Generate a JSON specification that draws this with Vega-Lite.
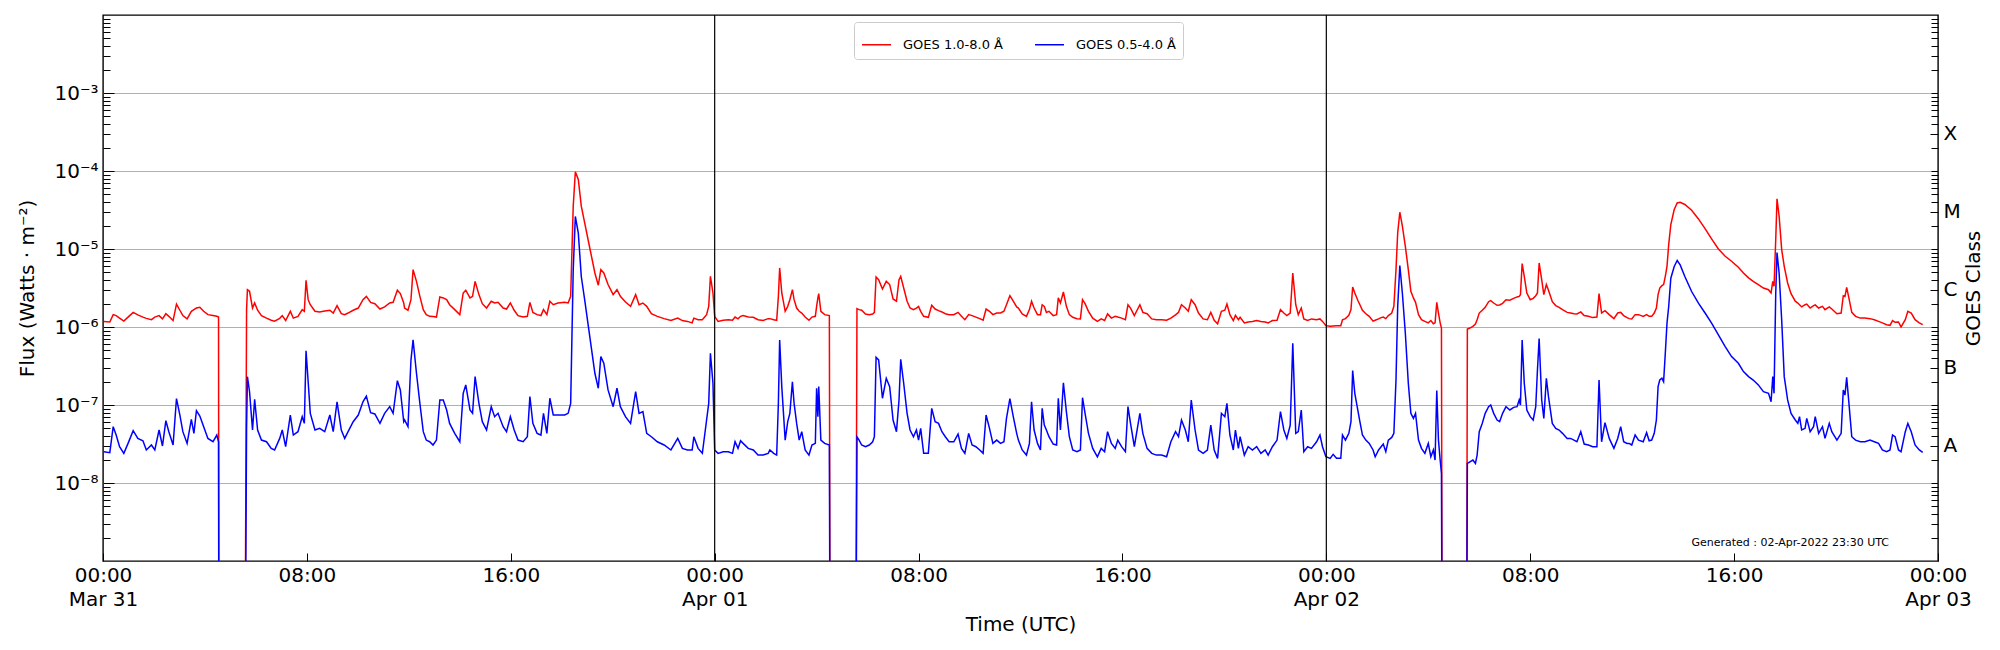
{
  "$schema": "https://vega.github.io/schema/vega-lite/v6.json",
  "width": 1835,
  "height": 546,
  "autosize": {"type": "none"},
  "padding": {"left": 103, "top": 15, "right": 62, "bottom": 89},
  "config": {
    "font": "DejaVu Sans",
    "view": {"stroke": "black", "strokeWidth": 1.4},
    "axis": {
      "labelFont": "DejaVu Sans", "titleFont": "DejaVu Sans",
      "labelFontSize": 20, "titleFontSize": 20, "titleFontWeight": "normal",
      "labelColor": "black", "titleColor": "black", "tickColor": "black",
      "tickWidth": 1, "domain": false
    }
  },
  "encoding": {
    "x": {
      "field": "t", "type": "temporal",
      "scale": {"type": "utc", "nice": false, "domain": [{"year": 2022, "month": 3, "date": 31, "utc": true}, {"year": 2022, "month": 4, "date": 3, "utc": true}]},
      "axis": {
        "orient": "bottom",
        "values": [
          {"year": 2022, "month": 3, "date": 31, "hours": 0, "utc": true},
          {"year": 2022, "month": 3, "date": 31, "hours": 8, "utc": true},
          {"year": 2022, "month": 3, "date": 31, "hours": 16, "utc": true},
          {"year": 2022, "month": 4, "date": 1, "hours": 0, "utc": true},
          {"year": 2022, "month": 4, "date": 1, "hours": 8, "utc": true},
          {"year": 2022, "month": 4, "date": 1, "hours": 16, "utc": true},
          {"year": 2022, "month": 4, "date": 2, "hours": 0, "utc": true},
          {"year": 2022, "month": 4, "date": 2, "hours": 8, "utc": true},
          {"year": 2022, "month": 4, "date": 2, "hours": 16, "utc": true},
          {"year": 2022, "month": 4, "date": 3, "hours": 0, "utc": true}
        ],
        "labelExpr": "utchours(datum.value) == 0 ? [utcFormat(datum.value, '%H:%M'), utcFormat(datum.value, '%b %d')] : utcFormat(datum.value, '%H:%M')",
        "labelFlush": false, "labelOverlap": false,
        "tickSize": -8, "labelPadding": 12, "labelLineHeight": 24,
        "grid": false, "title": "Time (UTC)", "titlePadding": 5
      }
    }
  },
  "layer": [
    {
      "data": {"values": [
        {"t":"2022-03-31T00:02Z","r":1.18e-6,"b":2.52e-8},
        {"t":"2022-03-31T00:16Z","r":1.16e-6,"b":2.45e-8},
        {"t":"2022-03-31T00:24Z","r":1.44e-6,"b":5.27e-8},
        {"t":"2022-03-31T00:31Z","r":1.40e-6,"b":4.12e-8},
        {"t":"2022-03-31T00:39Z","r":1.30e-6,"b":2.92e-8},
        {"t":"2022-03-31T00:49Z","r":1.19e-6,"b":2.40e-8},
        {"t":"2022-03-31T00:59Z","r":1.34e-6,"b":3.22e-8},
        {"t":"2022-03-31T01:11Z","r":1.54e-6,"b":4.68e-8},
        {"t":"2022-03-31T01:22Z","r":1.43e-6,"b":3.73e-8},
        {"t":"2022-03-31T01:34Z","r":1.34e-6,"b":3.48e-8},
        {"t":"2022-03-31T01:42Z","r":1.29e-6,"b":2.65e-8},
        {"t":"2022-03-31T01:54Z","r":1.24e-6,"b":3.07e-8},
        {"t":"2022-03-31T02:02Z","r":1.34e-6,"b":2.65e-8},
        {"t":"2022-03-31T02:12Z","r":1.40e-6,"b":4.78e-8},
        {"t":"2022-03-31T02:20Z","r":1.27e-6,"b":2.98e-8},
        {"t":"2022-03-31T02:28Z","r":1.48e-6,"b":6.29e-8},
        {"t":"2022-03-31T02:35Z","r":1.37e-6,"b":4.55e-8},
        {"t":"2022-03-31T02:45Z","r":1.21e-6,"b":3.07e-8},
        {"t":"2022-03-31T02:53Z","r":1.97e-6,"b":1.21e-7},
        {"t":"2022-03-31T03:01Z","r":1.64e-6,"b":7.44e-8},
        {"t":"2022-03-31T03:08Z","r":1.40e-6,"b":4.55e-8},
        {"t":"2022-03-31T03:18Z","r":1.27e-6,"b":3.22e-8},
        {"t":"2022-03-31T03:28Z","r":1.59e-6,"b":6.55e-8},
        {"t":"2022-03-31T03:34Z","r":1.67e-6,"b":4.33e-8},
        {"t":"2022-03-31T03:40Z","r":1.75e-6,"b":8.46e-8},
        {"t":"2022-03-31T03:48Z","r":1.79e-6,"b":7.22e-8},
        {"t":"2022-03-31T03:57Z","r":1.59e-6,"b":5.27e-8},
        {"t":"2022-03-31T04:07Z","r":1.44e-6,"b":3.73e-8},
        {"t":"2022-03-31T04:19Z","r":1.40e-6,"b":3.38e-8},
        {"t":"2022-03-31T04:28Z","r":1.37e-6,"b":4.12e-8},
        {"t":"2022-03-31T04:32Z","r":1.34e-6,"b":3.38e-8},
        {"t":"2022-03-31T04:33Z","r":1e-11,"b":1e-11},
        {"t":"2022-03-31T05:34Z","r":1e-11,"b":1e-11},
        {"t":"2022-03-31T05:38Z","r":1.67e-6,"b":5.02e-8},
        {"t":"2022-03-31T05:40Z","r":3.01e-6,"b":2.31e-7},
        {"t":"2022-03-31T05:45Z","r":2.87e-6,"b":1.48e-7},
        {"t":"2022-03-31T05:52Z","r":1.75e-6,"b":4.78e-8},
        {"t":"2022-03-31T05:57Z","r":2.03e-6,"b":1.18e-7},
        {"t":"2022-03-31T06:04Z","r":1.64e-6,"b":4.78e-8},
        {"t":"2022-03-31T06:13Z","r":1.40e-6,"b":3.55e-8},
        {"t":"2022-03-31T06:25Z","r":1.30e-6,"b":3.38e-8},
        {"t":"2022-03-31T06:36Z","r":1.22e-6,"b":2.78e-8},
        {"t":"2022-03-31T06:44Z","r":1.19e-6,"b":2.65e-8},
        {"t":"2022-03-31T06:56Z","r":1.29e-6,"b":3.73e-8},
        {"t":"2022-03-31T07:02Z","r":1.40e-6,"b":4.78e-8},
        {"t":"2022-03-31T07:10Z","r":1.21e-6,"b":2.92e-8},
        {"t":"2022-03-31T07:21Z","r":1.59e-6,"b":7.44e-8},
        {"t":"2022-03-31T07:28Z","r":1.30e-6,"b":4.12e-8},
        {"t":"2022-03-31T07:39Z","r":1.37e-6,"b":4.55e-8},
        {"t":"2022-03-31T07:49Z","r":1.67e-6,"b":7.08e-8},
        {"t":"2022-03-31T07:54Z","r":1.59e-6,"b":5.81e-8},
        {"t":"2022-03-31T07:58Z","r":3.97e-6,"b":4.94e-7},
        {"t":"2022-03-31T08:03Z","r":2.24e-6,"b":1.99e-7},
        {"t":"2022-03-31T08:08Z","r":1.93e-6,"b":7.82e-8},
        {"t":"2022-03-31T08:19Z","r":1.59e-6,"b":4.78e-8},
        {"t":"2022-03-31T08:30Z","r":1.56e-6,"b":5.02e-8},
        {"t":"2022-03-31T08:42Z","r":1.60e-6,"b":4.55e-8},
        {"t":"2022-03-31T08:54Z","r":1.64e-6,"b":7.44e-8},
        {"t":"2022-03-31T09:02Z","r":1.51e-6,"b":4.55e-8},
        {"t":"2022-03-31T09:11Z","r":1.88e-6,"b":1.10e-7},
        {"t":"2022-03-31T09:21Z","r":1.48e-6,"b":4.78e-8},
        {"t":"2022-03-31T09:29Z","r":1.44e-6,"b":3.73e-8},
        {"t":"2022-03-31T09:37Z","r":1.51e-6,"b":4.55e-8},
        {"t":"2022-03-31T09:49Z","r":1.64e-6,"b":6.11e-8},
        {"t":"2022-03-31T10:01Z","r":1.75e-6,"b":7.44e-8},
        {"t":"2022-03-31T10:12Z","r":2.24e-6,"b":1.10e-7},
        {"t":"2022-03-31T10:20Z","r":2.47e-6,"b":1.30e-7},
        {"t":"2022-03-31T10:30Z","r":2.07e-6,"b":7.97e-8},
        {"t":"2022-03-31T10:40Z","r":1.99e-6,"b":7.67e-8},
        {"t":"2022-03-31T10:52Z","r":1.70e-6,"b":5.81e-8},
        {"t":"2022-03-31T11:03Z","r":1.81e-6,"b":7.82e-8},
        {"t":"2022-03-31T11:15Z","r":2.03e-6,"b":9.52e-8},
        {"t":"2022-03-31T11:23Z","r":2.07e-6,"b":7.82e-8},
        {"t":"2022-03-31T11:33Z","r":2.96e-6,"b":2.05e-7},
        {"t":"2022-03-31T11:40Z","r":2.68e-6,"b":1.56e-7},
        {"t":"2022-03-31T11:48Z","r":2.03e-6,"b":6.11e-8},
        {"t":"2022-03-31T11:50Z","r":1.75e-6,"b":6.42e-8},
        {"t":"2022-03-31T11:58Z","r":1.64e-6,"b":5.27e-8},
        {"t":"2022-03-31T12:05Z","r":2.24e-6,"b":3.78e-7},
        {"t":"2022-03-31T12:10Z","r":5.44e-6,"b":6.83e-7},
        {"t":"2022-03-31T12:18Z","r":3.85e-6,"b":2.55e-7},
        {"t":"2022-03-31T12:26Z","r":2.47e-6,"b":1.05e-7},
        {"t":"2022-03-31T12:34Z","r":1.67e-6,"b":4.55e-8},
        {"t":"2022-03-31T12:41Z","r":1.44e-6,"b":3.55e-8},
        {"t":"2022-03-31T12:49Z","r":1.37e-6,"b":3.38e-8},
        {"t":"2022-03-31T12:57Z","r":1.36e-6,"b":3.07e-8},
        {"t":"2022-03-31T13:05Z","r":1.34e-6,"b":3.55e-8},
        {"t":"2022-03-31T13:13Z","r":2.43e-6,"b":1.16e-7},
        {"t":"2022-03-31T13:21Z","r":2.36e-6,"b":1.16e-7},
        {"t":"2022-03-31T13:29Z","r":2.24e-6,"b":8.63e-8},
        {"t":"2022-03-31T13:36Z","r":1.93e-6,"b":5.81e-8},
        {"t":"2022-03-31T13:48Z","r":1.67e-6,"b":4.33e-8},
        {"t":"2022-03-31T14:00Z","r":1.44e-6,"b":3.38e-8},
        {"t":"2022-03-31T14:08Z","r":2.73e-6,"b":1.41e-7},
        {"t":"2022-03-31T14:14Z","r":2.96e-6,"b":1.81e-7},
        {"t":"2022-03-31T14:24Z","r":2.36e-6,"b":8.63e-8},
        {"t":"2022-03-31T14:30Z","r":2.47e-6,"b":7.82e-8},
        {"t":"2022-03-31T14:36Z","r":3.85e-6,"b":2.31e-7},
        {"t":"2022-03-31T14:45Z","r":2.60e-6,"b":1.05e-7},
        {"t":"2022-03-31T14:53Z","r":1.99e-6,"b":6.11e-8},
        {"t":"2022-03-31T15:03Z","r":1.75e-6,"b":4.78e-8},
        {"t":"2022-03-31T15:14Z","r":2.14e-6,"b":9.52e-8},
        {"t":"2022-03-31T15:22Z","r":2.03e-6,"b":7.08e-8},
        {"t":"2022-03-31T15:30Z","r":2.07e-6,"b":7.82e-8},
        {"t":"2022-03-31T15:42Z","r":1.75e-6,"b":5.27e-8},
        {"t":"2022-03-31T15:50Z","r":1.70e-6,"b":4.55e-8},
        {"t":"2022-03-31T15:59Z","r":2.03e-6,"b":7.08e-8},
        {"t":"2022-03-31T16:08Z","r":1.64e-6,"b":4.78e-8},
        {"t":"2022-03-31T16:17Z","r":1.40e-6,"b":3.55e-8},
        {"t":"2022-03-31T16:29Z","r":1.34e-6,"b":3.38e-8},
        {"t":"2022-03-31T16:39Z","r":1.37e-6,"b":3.92e-8},
        {"t":"2022-03-31T16:45Z","r":2.07e-6,"b":1.28e-7},
        {"t":"2022-03-31T16:52Z","r":1.54e-6,"b":5.81e-8},
        {"t":"2022-03-31T17:02Z","r":1.44e-6,"b":4.33e-8},
        {"t":"2022-03-31T17:11Z","r":1.40e-6,"b":4.12e-8},
        {"t":"2022-03-31T17:17Z","r":1.67e-6,"b":7.82e-8},
        {"t":"2022-03-31T17:25Z","r":1.44e-6,"b":4.33e-8},
        {"t":"2022-03-31T17:32Z","r":2.14e-6,"b":1.22e-7},
        {"t":"2022-03-31T17:40Z","r":1.93e-6,"b":7.44e-8},
        {"t":"2022-03-31T17:51Z","r":2.03e-6,"b":7.44e-8},
        {"t":"2022-03-31T18:07Z","r":2.07e-6,"b":7.44e-8},
        {"t":"2022-03-31T18:15Z","r":2.03e-6,"b":7.82e-8},
        {"t":"2022-03-31T18:21Z","r":2.47e-6,"b":1.05e-7},
        {"t":"2022-03-31T18:27Z","r":3.54e-5,"b":5.4e-6},
        {"t":"2022-03-31T18:32Z","r":9.75e-5,"b":2.61e-5},
        {"t":"2022-03-31T18:39Z","r":7.78e-5,"b":1.6e-5},
        {"t":"2022-03-31T18:46Z","r":3.54e-5,"b":4.44e-6},
        {"t":"2022-03-31T18:54Z","r":2.16e-5,"b":2.23e-6},
        {"t":"2022-03-31T19:06Z","r":1.03e-5,"b":7.53e-7},
        {"t":"2022-03-31T19:18Z","r":4.93e-6,"b":2.55e-7},
        {"t":"2022-03-31T19:26Z","r":3.43e-6,"b":1.64e-7},
        {"t":"2022-03-31T19:32Z","r":5.44e-6,"b":4.17e-7},
        {"t":"2022-03-31T19:39Z","r":4.93e-6,"b":3.43e-7},
        {"t":"2022-03-31T19:49Z","r":3.50e-6,"b":1.56e-7},
        {"t":"2022-03-31T20:01Z","r":2.60e-6,"b":9.52e-8},
        {"t":"2022-03-31T20:10Z","r":3.01e-6,"b":1.64e-7},
        {"t":"2022-03-31T20:18Z","r":2.47e-6,"b":9.52e-8},
        {"t":"2022-03-31T20:30Z","r":2.09e-6,"b":7.08e-8},
        {"t":"2022-03-31T20:42Z","r":1.84e-6,"b":5.81e-8},
        {"t":"2022-03-31T20:54Z","r":2.60e-6,"b":1.48e-7},
        {"t":"2022-03-31T21:02Z","r":1.93e-6,"b":7.82e-8},
        {"t":"2022-03-31T21:11Z","r":2.03e-6,"b":8.21e-8},
        {"t":"2022-03-31T21:20Z","r":1.84e-6,"b":4.33e-8},
        {"t":"2022-03-31T21:31Z","r":1.48e-6,"b":3.92e-8},
        {"t":"2022-03-31T21:45Z","r":1.37e-6,"b":3.38e-8},
        {"t":"2022-03-31T22:01Z","r":1.28e-6,"b":3.07e-8},
        {"t":"2022-03-31T22:17Z","r":1.21e-6,"b":2.65e-8},
        {"t":"2022-03-31T22:33Z","r":1.30e-6,"b":3.73e-8},
        {"t":"2022-03-31T22:44Z","r":1.21e-6,"b":2.78e-8},
        {"t":"2022-03-31T22:56Z","r":1.18e-6,"b":2.65e-8},
        {"t":"2022-03-31T23:07Z","r":1.13e-6,"b":2.65e-8},
        {"t":"2022-03-31T23:11Z","r":1.30e-6,"b":3.92e-8},
        {"t":"2022-03-31T23:21Z","r":1.24e-6,"b":2.78e-8},
        {"t":"2022-03-31T23:31Z","r":1.24e-6,"b":2.40e-8},
        {"t":"2022-03-31T23:41Z","r":1.44e-6,"b":6.42e-8},
        {"t":"2022-03-31T23:46Z","r":1.84e-6,"b":1.05e-7},
        {"t":"2022-03-31T23:50Z","r":4.47e-6,"b":4.6e-7},
        {"t":"2022-03-31T23:56Z","r":2.73e-6,"b":1.90e-7},
        {"t":"2022-04-01T00:00Z","r":1.37e-6,"b":2.65e-8},
        {"t":"2022-04-01T00:08Z","r":1.18e-6,"b":2.40e-8},
        {"t":"2022-04-01T00:20Z","r":1.22e-6,"b":2.52e-8},
        {"t":"2022-04-01T00:32Z","r":1.24e-6,"b":2.52e-8},
        {"t":"2022-04-01T00:42Z","r":1.22e-6,"b":2.40e-8},
        {"t":"2022-04-01T00:48Z","r":1.34e-6,"b":3.38e-8},
        {"t":"2022-04-01T00:55Z","r":1.27e-6,"b":2.78e-8},
        {"t":"2022-04-01T01:01Z","r":1.37e-6,"b":3.48e-8},
        {"t":"2022-04-01T01:07Z","r":1.40e-6,"b":3.22e-8},
        {"t":"2022-04-01T01:19Z","r":1.34e-6,"b":2.78e-8},
        {"t":"2022-04-01T01:31Z","r":1.33e-6,"b":2.65e-8},
        {"t":"2022-04-01T01:42Z","r":1.24e-6,"b":2.28e-8},
        {"t":"2022-04-01T01:54Z","r":1.21e-6,"b":2.28e-8},
        {"t":"2022-04-01T02:06Z","r":1.28e-6,"b":2.40e-8},
        {"t":"2022-04-01T02:10Z","r":1.28e-6,"b":2.65e-8},
        {"t":"2022-04-01T02:19Z","r":1.24e-6,"b":2.40e-8},
        {"t":"2022-04-01T02:26Z","r":1.22e-6,"b":2.28e-8},
        {"t":"2022-04-01T02:30Z","r":2.47e-6,"b":1.05e-7},
        {"t":"2022-04-01T02:33Z","r":5.72e-6,"b":6.83e-7},
        {"t":"2022-04-01T02:38Z","r":2.73e-6,"b":1.72e-7},
        {"t":"2022-04-01T02:46Z","r":1.59e-6,"b":3.55e-8},
        {"t":"2022-04-01T02:52Z","r":1.84e-6,"b":6.11e-8},
        {"t":"2022-04-01T02:57Z","r":2.24e-6,"b":7.82e-8},
        {"t":"2022-04-01T03:03Z","r":3.01e-6,"b":1.99e-7},
        {"t":"2022-04-01T03:07Z","r":2.24e-6,"b":1.05e-7},
        {"t":"2022-04-01T03:13Z","r":1.75e-6,"b":5.81e-8},
        {"t":"2022-04-01T03:19Z","r":1.59e-6,"b":3.55e-8},
        {"t":"2022-04-01T03:25Z","r":1.51e-6,"b":4.55e-8},
        {"t":"2022-04-01T03:33Z","r":1.34e-6,"b":2.65e-8},
        {"t":"2022-04-01T03:42Z","r":1.22e-6,"b":2.28e-8},
        {"t":"2022-04-01T03:49Z","r":1.34e-6,"b":3.07e-8},
        {"t":"2022-04-01T03:57Z","r":1.37e-6,"b":3.22e-8},
        {"t":"2022-04-01T04:00Z","r":1.84e-6,"b":1.64e-7},
        {"t":"2022-04-01T04:03Z","r":2.36e-6,"b":7.08e-8},
        {"t":"2022-04-01T04:05Z","r":2.68e-6,"b":1.72e-7},
        {"t":"2022-04-01T04:10Z","r":1.59e-6,"b":3.55e-8},
        {"t":"2022-04-01T04:19Z","r":1.44e-6,"b":3.22e-8},
        {"t":"2022-04-01T04:30Z","r":1.40e-6,"b":3.07e-8},
        {"t":"2022-04-01T04:32Z","r":1e-11,"b":1e-11},
        {"t":"2022-04-01T05:32Z","r":1e-11,"b":1e-11},
        {"t":"2022-04-01T05:35Z","r":1.72e-6,"b":3.92e-8},
        {"t":"2022-04-01T05:40Z","r":1.67e-6,"b":3.55e-8},
        {"t":"2022-04-01T05:46Z","r":1.64e-6,"b":3.07e-8},
        {"t":"2022-04-01T05:55Z","r":1.47e-6,"b":2.92e-8},
        {"t":"2022-04-01T06:04Z","r":1.44e-6,"b":3.07e-8},
        {"t":"2022-04-01T06:12Z","r":1.47e-6,"b":3.38e-8},
        {"t":"2022-04-01T06:16Z","r":1.54e-6,"b":3.92e-8},
        {"t":"2022-04-01T06:20Z","r":4.38e-6,"b":4.08e-7},
        {"t":"2022-04-01T06:26Z","r":4.05e-6,"b":3.78e-7},
        {"t":"2022-04-01T06:35Z","r":3.07e-6,"b":1.22e-7},
        {"t":"2022-04-01T06:44Z","r":3.85e-6,"b":2.20e-7},
        {"t":"2022-04-01T06:52Z","r":3.50e-6,"b":1.72e-7},
        {"t":"2022-04-01T07:00Z","r":2.29e-6,"b":6.42e-8},
        {"t":"2022-04-01T07:08Z","r":2.14e-6,"b":4.55e-8},
        {"t":"2022-04-01T07:14Z","r":4.05e-6,"b":1.16e-7},
        {"t":"2022-04-01T07:18Z","r":4.47e-6,"b":3.85e-7},
        {"t":"2022-04-01T07:25Z","r":3.16e-6,"b":1.90e-7},
        {"t":"2022-04-01T07:33Z","r":2.14e-6,"b":7.82e-8},
        {"t":"2022-04-01T07:40Z","r":1.75e-6,"b":4.78e-8},
        {"t":"2022-04-01T07:48Z","r":1.67e-6,"b":3.92e-8},
        {"t":"2022-04-01T07:55Z","r":1.75e-6,"b":4.78e-8},
        {"t":"2022-04-01T08:00Z","r":1.84e-6,"b":3.55e-8},
        {"t":"2022-04-01T08:05Z","r":1.59e-6,"b":5.02e-8},
        {"t":"2022-04-01T08:12Z","r":1.37e-6,"b":2.40e-8},
        {"t":"2022-04-01T08:23Z","r":1.33e-6,"b":2.40e-8},
        {"t":"2022-04-01T08:31Z","r":1.90e-6,"b":9.06e-8},
        {"t":"2022-04-01T08:39Z","r":1.70e-6,"b":6.11e-8},
        {"t":"2022-04-01T08:47Z","r":1.62e-6,"b":5.81e-8},
        {"t":"2022-04-01T08:55Z","r":1.56e-6,"b":4.55e-8},
        {"t":"2022-04-01T09:03Z","r":1.48e-6,"b":3.92e-8},
        {"t":"2022-04-01T09:12Z","r":1.44e-6,"b":3.38e-8},
        {"t":"2022-04-01T09:23Z","r":1.44e-6,"b":3.38e-8},
        {"t":"2022-04-01T09:33Z","r":1.54e-6,"b":4.24e-8},
        {"t":"2022-04-01T09:41Z","r":1.37e-6,"b":2.78e-8},
        {"t":"2022-04-01T09:49Z","r":1.24e-6,"b":2.40e-8},
        {"t":"2022-04-01T09:58Z","r":1.44e-6,"b":4.33e-8},
        {"t":"2022-04-01T10:06Z","r":1.40e-6,"b":3.07e-8},
        {"t":"2022-04-01T10:15Z","r":1.34e-6,"b":2.92e-8},
        {"t":"2022-04-01T10:24Z","r":1.28e-6,"b":2.65e-8},
        {"t":"2022-04-01T10:32Z","r":1.22e-6,"b":2.40e-8},
        {"t":"2022-04-01T10:39Z","r":1.70e-6,"b":7.44e-8},
        {"t":"2022-04-01T10:47Z","r":1.59e-6,"b":5.02e-8},
        {"t":"2022-04-01T10:55Z","r":1.44e-6,"b":3.22e-8},
        {"t":"2022-04-01T11:04Z","r":1.51e-6,"b":3.55e-8},
        {"t":"2022-04-01T11:13Z","r":1.51e-6,"b":3.22e-8},
        {"t":"2022-04-01T11:21Z","r":1.59e-6,"b":3.38e-8},
        {"t":"2022-04-01T11:27Z","r":1.93e-6,"b":6.74e-8},
        {"t":"2022-04-01T11:35Z","r":2.52e-6,"b":1.21e-7},
        {"t":"2022-04-01T11:43Z","r":2.14e-6,"b":7.08e-8},
        {"t":"2022-04-01T11:51Z","r":1.81e-6,"b":4.33e-8},
        {"t":"2022-04-01T11:55Z","r":1.75e-6,"b":3.55e-8},
        {"t":"2022-04-01T12:04Z","r":1.47e-6,"b":2.65e-8},
        {"t":"2022-04-01T12:14Z","r":1.37e-6,"b":2.28e-8},
        {"t":"2022-04-01T12:21Z","r":1.67e-6,"b":3.22e-8},
        {"t":"2022-04-01T12:26Z","r":2.14e-6,"b":1.10e-7},
        {"t":"2022-04-01T12:32Z","r":1.75e-6,"b":4.78e-8},
        {"t":"2022-04-01T12:40Z","r":1.44e-6,"b":3.22e-8},
        {"t":"2022-04-01T12:47Z","r":1.44e-6,"b":2.65e-8},
        {"t":"2022-04-01T12:51Z","r":1.93e-6,"b":9.06e-8},
        {"t":"2022-04-01T12:56Z","r":1.84e-6,"b":5.53e-8},
        {"t":"2022-04-01T13:01Z","r":1.54e-6,"b":4.78e-8},
        {"t":"2022-04-01T13:07Z","r":1.59e-6,"b":3.92e-8},
        {"t":"2022-04-01T13:17Z","r":1.40e-6,"b":3.16e-8},
        {"t":"2022-04-01T13:25Z","r":1.44e-6,"b":3.07e-8},
        {"t":"2022-04-01T13:29Z","r":2.36e-6,"b":1.22e-7},
        {"t":"2022-04-01T13:34Z","r":2.03e-6,"b":4.78e-8},
        {"t":"2022-04-01T13:41Z","r":2.81e-6,"b":1.93e-7},
        {"t":"2022-04-01T13:48Z","r":1.84e-6,"b":8.21e-8},
        {"t":"2022-04-01T13:55Z","r":1.44e-6,"b":3.92e-8},
        {"t":"2022-04-01T14:03Z","r":1.33e-6,"b":2.65e-8},
        {"t":"2022-04-01T14:13Z","r":1.28e-6,"b":2.52e-8},
        {"t":"2022-04-01T14:21Z","r":1.27e-6,"b":2.65e-8},
        {"t":"2022-04-01T14:26Z","r":2.24e-6,"b":1.24e-7},
        {"t":"2022-04-01T14:32Z","r":1.99e-6,"b":7.82e-8},
        {"t":"2022-04-01T14:40Z","r":1.59e-6,"b":4.33e-8},
        {"t":"2022-04-01T14:50Z","r":1.30e-6,"b":2.78e-8},
        {"t":"2022-04-01T15:01Z","r":1.18e-6,"b":2.17e-8},
        {"t":"2022-04-01T15:10Z","r":1.27e-6,"b":2.78e-8},
        {"t":"2022-04-01T15:18Z","r":1.21e-6,"b":2.52e-8},
        {"t":"2022-04-01T15:25Z","r":1.47e-6,"b":4.55e-8},
        {"t":"2022-04-01T15:34Z","r":1.30e-6,"b":3.22e-8},
        {"t":"2022-04-01T15:43Z","r":1.37e-6,"b":2.78e-8},
        {"t":"2022-04-01T15:49Z","r":1.34e-6,"b":3.55e-8},
        {"t":"2022-04-01T15:58Z","r":1.30e-6,"b":2.92e-8},
        {"t":"2022-04-01T16:07Z","r":1.24e-6,"b":2.52e-8},
        {"t":"2022-04-01T16:13Z","r":1.93e-6,"b":9.52e-8},
        {"t":"2022-04-01T16:19Z","r":1.75e-6,"b":5.81e-8},
        {"t":"2022-04-01T16:28Z","r":1.40e-6,"b":2.92e-8},
        {"t":"2022-04-01T16:41Z","r":1.93e-6,"b":7.82e-8},
        {"t":"2022-04-01T16:48Z","r":1.54e-6,"b":4.33e-8},
        {"t":"2022-04-01T16:58Z","r":1.48e-6,"b":2.78e-8},
        {"t":"2022-04-01T17:09Z","r":1.27e-6,"b":2.40e-8},
        {"t":"2022-04-01T17:20Z","r":1.24e-6,"b":2.28e-8},
        {"t":"2022-04-01T17:32Z","r":1.24e-6,"b":2.28e-8},
        {"t":"2022-04-01T17:44Z","r":1.22e-6,"b":2.17e-8},
        {"t":"2022-04-01T17:54Z","r":1.30e-6,"b":3.38e-8},
        {"t":"2022-04-01T18:05Z","r":1.43e-6,"b":4.55e-8},
        {"t":"2022-04-01T18:12Z","r":1.54e-6,"b":3.92e-8},
        {"t":"2022-04-01T18:19Z","r":1.93e-6,"b":6.42e-8},
        {"t":"2022-04-01T18:28Z","r":1.75e-6,"b":4.78e-8},
        {"t":"2022-04-01T18:35Z","r":1.59e-6,"b":3.38e-8},
        {"t":"2022-04-01T18:42Z","r":2.24e-6,"b":1.16e-7},
        {"t":"2022-04-01T18:51Z","r":1.93e-6,"b":4.78e-8},
        {"t":"2022-04-01T18:59Z","r":1.51e-6,"b":2.65e-8},
        {"t":"2022-04-01T19:10Z","r":1.27e-6,"b":2.40e-8},
        {"t":"2022-04-01T19:20Z","r":1.24e-6,"b":2.65e-8},
        {"t":"2022-04-01T19:28Z","r":1.54e-6,"b":5.53e-8},
        {"t":"2022-04-01T19:36Z","r":1.22e-6,"b":2.65e-8},
        {"t":"2022-04-01T19:44Z","r":1.10e-6,"b":2.07e-8},
        {"t":"2022-04-01T19:53Z","r":1.59e-6,"b":7.82e-8},
        {"t":"2022-04-01T20:01Z","r":1.64e-6,"b":7.08e-8},
        {"t":"2022-04-01T20:06Z","r":1.97e-6,"b":1.05e-7},
        {"t":"2022-04-01T20:13Z","r":1.44e-6,"b":4.12e-8},
        {"t":"2022-04-01T20:21Z","r":1.21e-6,"b":2.65e-8},
        {"t":"2022-04-01T20:26Z","r":1.41e-6,"b":4.78e-8},
        {"t":"2022-04-01T20:33Z","r":1.24e-6,"b":2.78e-8},
        {"t":"2022-04-01T20:37Z","r":1.33e-6,"b":3.92e-8},
        {"t":"2022-04-01T20:47Z","r":1.13e-6,"b":2.28e-8},
        {"t":"2022-04-01T20:56Z","r":1.16e-6,"b":2.92e-8},
        {"t":"2022-04-01T21:06Z","r":1.18e-6,"b":2.65e-8},
        {"t":"2022-04-01T21:16Z","r":1.21e-6,"b":2.92e-8},
        {"t":"2022-04-01T21:26Z","r":1.18e-6,"b":2.40e-8},
        {"t":"2022-04-01T21:36Z","r":1.16e-6,"b":2.65e-8},
        {"t":"2022-04-01T21:43Z","r":1.13e-6,"b":2.28e-8},
        {"t":"2022-04-01T21:53Z","r":1.21e-6,"b":2.92e-8},
        {"t":"2022-04-01T22:04Z","r":1.22e-6,"b":3.55e-8},
        {"t":"2022-04-01T22:12Z","r":1.67e-6,"b":8.21e-8},
        {"t":"2022-04-01T22:20Z","r":1.51e-6,"b":4.78e-8},
        {"t":"2022-04-01T22:27Z","r":1.40e-6,"b":3.73e-8},
        {"t":"2022-04-01T22:35Z","r":1.51e-6,"b":5.53e-8},
        {"t":"2022-04-01T22:41Z","r":4.93e-6,"b":6.19e-7},
        {"t":"2022-04-01T22:48Z","r":1.93e-6,"b":4.33e-8},
        {"t":"2022-04-01T22:54Z","r":1.44e-6,"b":4.55e-8},
        {"t":"2022-04-01T23:01Z","r":1.75e-6,"b":8.63e-8},
        {"t":"2022-04-01T23:07Z","r":1.27e-6,"b":2.52e-8},
        {"t":"2022-04-01T23:16Z","r":1.21e-6,"b":2.92e-8},
        {"t":"2022-04-01T23:25Z","r":1.27e-6,"b":2.78e-8},
        {"t":"2022-04-01T23:37Z","r":1.24e-6,"b":3.38e-8},
        {"t":"2022-04-01T23:45Z","r":1.27e-6,"b":4.12e-8},
        {"t":"2022-04-01T23:51Z","r":1.18e-6,"b":2.92e-8},
        {"t":"2022-04-01T23:59Z","r":1.04e-6,"b":2.17e-8},
        {"t":"2022-04-02T00:09Z","r":1.02e-6,"b":2.07e-8},
        {"t":"2022-04-02T00:16Z","r":1.03e-6,"b":2.33e-8},
        {"t":"2022-04-02T00:24Z","r":1.04e-6,"b":2.07e-8},
        {"t":"2022-04-02T00:34Z","r":1.04e-6,"b":2.07e-8},
        {"t":"2022-04-02T00:38Z","r":1.24e-6,"b":4.12e-8},
        {"t":"2022-04-02T00:45Z","r":1.28e-6,"b":3.55e-8},
        {"t":"2022-04-02T00:53Z","r":1.41e-6,"b":4.33e-8},
        {"t":"2022-04-02T00:58Z","r":1.67e-6,"b":6.11e-8},
        {"t":"2022-04-02T01:02Z","r":3.26e-6,"b":2.76e-7},
        {"t":"2022-04-02T01:07Z","r":2.73e-6,"b":1.41e-7},
        {"t":"2022-04-02T01:14Z","r":2.20e-6,"b":8.63e-8},
        {"t":"2022-04-02T01:19Z","r":1.93e-6,"b":6.11e-8},
        {"t":"2022-04-02T01:25Z","r":1.64e-6,"b":4.12e-8},
        {"t":"2022-04-02T01:33Z","r":1.48e-6,"b":3.55e-8},
        {"t":"2022-04-02T01:41Z","r":1.37e-6,"b":3.22e-8},
        {"t":"2022-04-02T01:50Z","r":1.19e-6,"b":2.65e-8},
        {"t":"2022-04-02T01:55Z","r":1.22e-6,"b":2.17e-8},
        {"t":"2022-04-02T02:03Z","r":1.27e-6,"b":2.65e-8},
        {"t":"2022-04-02T02:09Z","r":1.32e-6,"b":2.92e-8},
        {"t":"2022-04-02T02:14Z","r":1.34e-6,"b":3.16e-8},
        {"t":"2022-04-02T02:20Z","r":1.28e-6,"b":2.52e-8},
        {"t":"2022-04-02T02:26Z","r":1.40e-6,"b":3.55e-8},
        {"t":"2022-04-02T02:34Z","r":1.51e-6,"b":3.84e-8},
        {"t":"2022-04-02T02:39Z","r":1.84e-6,"b":4.33e-8},
        {"t":"2022-04-02T02:44Z","r":5.44e-6,"b":2.09e-7},
        {"t":"2022-04-02T02:48Z","r":1.61e-5,"b":1.83e-6},
        {"t":"2022-04-02T02:53Z","r":2.96e-5,"b":6.14e-6},
        {"t":"2022-04-02T02:59Z","r":1.96e-5,"b":2.71e-6},
        {"t":"2022-04-02T03:06Z","r":1.08e-5,"b":8.3e-7},
        {"t":"2022-04-02T03:13Z","r":5.44e-6,"b":1.90e-7},
        {"t":"2022-04-02T03:19Z","r":2.87e-6,"b":7.82e-8},
        {"t":"2022-04-02T03:25Z","r":2.36e-6,"b":6.74e-8},
        {"t":"2022-04-02T03:30Z","r":2.07e-6,"b":7.82e-8},
        {"t":"2022-04-02T03:37Z","r":1.44e-6,"b":3.55e-8},
        {"t":"2022-04-02T03:44Z","r":1.24e-6,"b":2.78e-8},
        {"t":"2022-04-02T03:52Z","r":1.18e-6,"b":2.40e-8},
        {"t":"2022-04-02T04:00Z","r":1.13e-6,"b":3.22e-8},
        {"t":"2022-04-02T04:06Z","r":1.21e-6,"b":2.17e-8},
        {"t":"2022-04-02T04:12Z","r":1.10e-6,"b":2.65e-8},
        {"t":"2022-04-02T04:16Z","r":1.13e-6,"b":1.97e-8},
        {"t":"2022-04-02T04:20Z","r":2.07e-6,"b":1.53e-7},
        {"t":"2022-04-02T04:24Z","r":1.51e-6,"b":3.55e-8},
        {"t":"2022-04-02T04:28Z","r":1.13e-6,"b":1.97e-8},
        {"t":"2022-04-02T04:31Z","r":9.7e-7,"b":1.33e-8},
        {"t":"2022-04-02T04:33Z","r":1e-11,"b":1e-11},
        {"t":"2022-04-02T05:30Z","r":1e-11,"b":1e-11},
        {"t":"2022-04-02T05:32Z","r":9.4e-7,"b":1.78e-8},
        {"t":"2022-04-02T05:38Z","r":9.7e-7,"b":1.87e-8},
        {"t":"2022-04-02T05:45Z","r":1.02e-6,"b":1.97e-8},
        {"t":"2022-04-02T05:51Z","r":1.09e-6,"b":1.78e-8},
        {"t":"2022-04-02T05:55Z","r":1.24e-6,"b":2.28e-8},
        {"t":"2022-04-02T06:00Z","r":1.51e-6,"b":4.55e-8},
        {"t":"2022-04-02T06:07Z","r":1.64e-6,"b":5.81e-8},
        {"t":"2022-04-02T06:14Z","r":1.79e-6,"b":7.82e-8},
        {"t":"2022-04-02T06:22Z","r":2.11e-6,"b":9.52e-8},
        {"t":"2022-04-02T06:27Z","r":2.18e-6,"b":1.0e-7},
        {"t":"2022-04-02T06:34Z","r":2.03e-6,"b":7.82e-8},
        {"t":"2022-04-02T06:42Z","r":1.90e-6,"b":6.42e-8},
        {"t":"2022-04-02T06:48Z","r":1.92e-6,"b":6.11e-8},
        {"t":"2022-04-02T06:55Z","r":2.01e-6,"b":7.82e-8},
        {"t":"2022-04-02T07:03Z","r":2.24e-6,"b":9.52e-8},
        {"t":"2022-04-02T07:12Z","r":2.20e-6,"b":8.63e-8},
        {"t":"2022-04-02T07:21Z","r":2.33e-6,"b":9.33e-8},
        {"t":"2022-04-02T07:29Z","r":2.43e-6,"b":9.52e-8},
        {"t":"2022-04-02T07:34Z","r":2.47e-6,"b":1.16e-7},
        {"t":"2022-04-02T07:37Z","r":2.60e-6,"b":1.0e-7},
        {"t":"2022-04-02T07:41Z","r":6.50e-6,"b":6.83e-7},
        {"t":"2022-04-02T07:46Z","r":4.47e-6,"b":1.90e-7},
        {"t":"2022-04-02T07:52Z","r":2.73e-6,"b":8.63e-8},
        {"t":"2022-04-02T08:00Z","r":2.24e-6,"b":7.08e-8},
        {"t":"2022-04-02T08:07Z","r":2.33e-6,"b":6.42e-8},
        {"t":"2022-04-02T08:13Z","r":2.52e-6,"b":9.52e-8},
        {"t":"2022-04-02T08:17Z","r":2.73e-6,"b":2.81e-7},
        {"t":"2022-04-02T08:21Z","r":6.63e-6,"b":7.10e-7},
        {"t":"2022-04-02T08:27Z","r":4.05e-6,"b":1.16e-7},
        {"t":"2022-04-02T08:32Z","r":2.60e-6,"b":6.74e-8},
        {"t":"2022-04-02T08:38Z","r":3.50e-6,"b":2.20e-7},
        {"t":"2022-04-02T08:43Z","r":2.96e-6,"b":1.28e-7},
        {"t":"2022-04-02T08:52Z","r":2.11e-6,"b":5.81e-8},
        {"t":"2022-04-02T09:00Z","r":1.88e-6,"b":5.02e-8},
        {"t":"2022-04-02T09:08Z","r":1.79e-6,"b":4.78e-8},
        {"t":"2022-04-02T09:16Z","r":1.67e-6,"b":4.33e-8},
        {"t":"2022-04-02T09:27Z","r":1.54e-6,"b":3.73e-8},
        {"t":"2022-04-02T09:35Z","r":1.51e-6,"b":3.73e-8},
        {"t":"2022-04-02T09:43Z","r":1.48e-6,"b":3.55e-8},
        {"t":"2022-04-02T09:50Z","r":1.47e-6,"b":3.38e-8},
        {"t":"2022-04-02T09:59Z","r":1.56e-6,"b":4.55e-8},
        {"t":"2022-04-02T10:07Z","r":1.40e-6,"b":3.16e-8},
        {"t":"2022-04-02T10:17Z","r":1.37e-6,"b":3.07e-8},
        {"t":"2022-04-02T10:27Z","r":1.32e-6,"b":2.92e-8},
        {"t":"2022-04-02T10:37Z","r":1.34e-6,"b":2.92e-8},
        {"t":"2022-04-02T10:42Z","r":2.68e-6,"b":2.09e-7},
        {"t":"2022-04-02T10:48Z","r":1.51e-6,"b":3.38e-8},
        {"t":"2022-04-02T10:56Z","r":1.62e-6,"b":5.94e-8},
        {"t":"2022-04-02T11:06Z","r":1.44e-6,"b":3.73e-8},
        {"t":"2022-04-02T11:17Z","r":1.28e-6,"b":2.78e-8},
        {"t":"2022-04-02T11:26Z","r":1.51e-6,"b":3.73e-8},
        {"t":"2022-04-02T11:33Z","r":1.54e-6,"b":5.27e-8},
        {"t":"2022-04-02T11:40Z","r":1.40e-6,"b":3.38e-8},
        {"t":"2022-04-02T11:48Z","r":1.32e-6,"b":3.22e-8},
        {"t":"2022-04-02T11:53Z","r":1.28e-6,"b":3.22e-8},
        {"t":"2022-04-02T11:59Z","r":1.27e-6,"b":3.07e-8},
        {"t":"2022-04-02T12:07Z","r":1.44e-6,"b":4.12e-8},
        {"t":"2022-04-02T12:15Z","r":1.44e-6,"b":3.55e-8},
        {"t":"2022-04-02T12:26Z","r":1.37e-6,"b":3.38e-8},
        {"t":"2022-04-02T12:34Z","r":1.44e-6,"b":4.42e-8},
        {"t":"2022-04-02T12:40Z","r":1.37e-6,"b":3.48e-8},
        {"t":"2022-04-02T12:46Z","r":1.37e-6,"b":3.55e-8},
        {"t":"2022-04-02T12:52Z","r":1.51e-6,"b":4.33e-8},
        {"t":"2022-04-02T12:57Z","r":1.75e-6,"b":6.42e-8},
        {"t":"2022-04-02T13:01Z","r":2.60e-6,"b":1.72e-7},
        {"t":"2022-04-02T13:05Z","r":3.16e-6,"b":2.09e-7},
        {"t":"2022-04-02T13:10Z","r":3.39e-6,"b":2.20e-7},
        {"t":"2022-04-02T13:14Z","r":3.50e-6,"b":1.99e-7},
        {"t":"2022-04-02T13:18Z","r":4.47e-6,"b":4.60e-7},
        {"t":"2022-04-02T13:22Z","r":6.00e-6,"b":1.12e-6},
        {"t":"2022-04-02T13:26Z","r":1.14e-5,"b":1.83e-6},
        {"t":"2022-04-02T13:31Z","r":2.06e-5,"b":4.22e-6},
        {"t":"2022-04-02T13:39Z","r":3.21e-5,"b":5.96e-6},
        {"t":"2022-04-02T13:46Z","r":3.90e-5,"b":7.12e-6},
        {"t":"2022-04-02T13:53Z","r":3.98e-5,"b":6.26e-6},
        {"t":"2022-04-02T14:04Z","r":3.72e-5,"b":4.44e-6},
        {"t":"2022-04-02T14:20Z","r":3.14e-5,"b":2.85e-6},
        {"t":"2022-04-02T14:36Z","r":2.43e-5,"b":2.02e-6},
        {"t":"2022-04-02T14:52Z","r":1.81e-5,"b":1.50e-6},
        {"t":"2022-04-02T15:07Z","r":1.35e-5,"b":1.12e-6},
        {"t":"2022-04-02T15:23Z","r":1.0e-5,"b":7.92e-7},
        {"t":"2022-04-02T15:39Z","r":8.08e-6,"b":5.61e-7},
        {"t":"2022-04-02T15:54Z","r":6.96e-6,"b":4.17e-7},
        {"t":"2022-04-02T16:10Z","r":5.83e-6,"b":3.43e-7},
        {"t":"2022-04-02T16:22Z","r":4.93e-6,"b":2.68e-7},
        {"t":"2022-04-02T16:34Z","r":4.26e-6,"b":2.31e-7},
        {"t":"2022-04-02T16:45Z","r":3.85e-6,"b":2.09e-7},
        {"t":"2022-04-02T16:57Z","r":3.50e-6,"b":1.81e-7},
        {"t":"2022-04-02T17:09Z","r":3.16e-6,"b":1.48e-7},
        {"t":"2022-04-02T17:21Z","r":3.01e-6,"b":1.41e-7},
        {"t":"2022-04-02T17:27Z","r":2.73e-6,"b":1.10e-7},
        {"t":"2022-04-02T17:31Z","r":3.85e-6,"b":2.31e-7},
        {"t":"2022-04-02T17:34Z","r":3.33e-6,"b":1.41e-7},
        {"t":"2022-04-02T17:38Z","r":1.32e-5,"b":2.71e-6},
        {"t":"2022-04-02T17:41Z","r":4.39e-5,"b":9.02e-6},
        {"t":"2022-04-02T17:46Z","r":2.63e-5,"b":4.89e-6},
        {"t":"2022-04-02T17:52Z","r":9.83e-6,"b":1.23e-6},
        {"t":"2022-04-02T17:58Z","r":6.00e-6,"b":2.31e-7},
        {"t":"2022-04-02T18:06Z","r":3.67e-6,"b":1.16e-7},
        {"t":"2022-04-02T18:14Z","r":2.68e-6,"b":7.82e-8},
        {"t":"2022-04-02T18:24Z","r":2.14e-6,"b":6.42e-8},
        {"t":"2022-04-02T18:30Z","r":2.03e-6,"b":5.81e-8},
        {"t":"2022-04-02T18:34Z","r":1.93e-6,"b":7.08e-8},
        {"t":"2022-04-02T18:39Z","r":1.81e-6,"b":4.78e-8},
        {"t":"2022-04-02T18:47Z","r":1.93e-6,"b":5.02e-8},
        {"t":"2022-04-02T18:51Z","r":1.97e-6,"b":6.74e-8},
        {"t":"2022-04-02T18:59Z","r":1.75e-6,"b":4.55e-8},
        {"t":"2022-04-02T19:07Z","r":1.88e-6,"b":5.27e-8},
        {"t":"2022-04-02T19:11Z","r":1.92e-6,"b":7.08e-8},
        {"t":"2022-04-02T19:19Z","r":1.75e-6,"b":4.33e-8},
        {"t":"2022-04-02T19:28Z","r":1.84e-6,"b":5.27e-8},
        {"t":"2022-04-02T19:34Z","r":1.67e-6,"b":3.73e-8},
        {"t":"2022-04-02T19:44Z","r":1.81e-6,"b":5.81e-8},
        {"t":"2022-04-02T19:50Z","r":1.70e-6,"b":4.55e-8},
        {"t":"2022-04-02T20:02Z","r":1.48e-6,"b":3.55e-8},
        {"t":"2022-04-02T20:12Z","r":1.51e-6,"b":4.33e-8},
        {"t":"2022-04-02T20:17Z","r":2.52e-6,"b":1.56e-7},
        {"t":"2022-04-02T20:21Z","r":2.47e-6,"b":1.34e-7},
        {"t":"2022-04-02T20:25Z","r":3.23e-6,"b":2.26e-7},
        {"t":"2022-04-02T20:31Z","r":2.24e-6,"b":9.52e-8},
        {"t":"2022-04-02T20:37Z","r":1.54e-6,"b":3.92e-8},
        {"t":"2022-04-02T20:46Z","r":1.37e-6,"b":3.55e-8},
        {"t":"2022-04-02T20:57Z","r":1.30e-6,"b":3.38e-8},
        {"t":"2022-04-02T21:08Z","r":1.30e-6,"b":3.38e-8},
        {"t":"2022-04-02T21:20Z","r":1.28e-6,"b":3.55e-8},
        {"t":"2022-04-02T21:30Z","r":1.24e-6,"b":3.38e-8},
        {"t":"2022-04-02T21:40Z","r":1.18e-6,"b":3.22e-8},
        {"t":"2022-04-02T21:49Z","r":1.13e-6,"b":2.65e-8},
        {"t":"2022-04-02T21:59Z","r":1.07e-6,"b":2.52e-8},
        {"t":"2022-04-02T22:07Z","r":1.05e-6,"b":2.65e-8},
        {"t":"2022-04-02T22:13Z","r":1.21e-6,"b":4.12e-8},
        {"t":"2022-04-02T22:19Z","r":1.15e-6,"b":3.92e-8},
        {"t":"2022-04-02T22:27Z","r":1.16e-6,"b":2.65e-8},
        {"t":"2022-04-02T22:33Z","r":1.00e-6,"b":2.52e-8},
        {"t":"2022-04-02T22:43Z","r":1.24e-6,"b":4.55e-8},
        {"t":"2022-04-02T22:49Z","r":1.59e-6,"b":5.81e-8},
        {"t":"2022-04-02T22:57Z","r":1.51e-6,"b":4.55e-8},
        {"t":"2022-04-02T23:06Z","r":1.24e-6,"b":3.07e-8},
        {"t":"2022-04-02T23:16Z","r":1.13e-6,"b":2.65e-8},
        {"t":"2022-04-02T23:24Z","r":1.07e-6,"b":2.47e-8}
      ]},
      "transform": [{"fold": ["r", "b"], "as": ["s", "v"]}],
      "mark": {"type": "line", "strokeWidth": 1.5, "clip": true},
      "encoding": {
        "y": {
          "field": "v", "type": "quantitative",
          "scale": {"type": "log", "nice": false, "domain": [1e-9, 1e-2]},
          "axis": {
            "orient": "left",
            "values": [1e-8, 1e-7, 1e-6, 1e-5, 1e-4, 1e-3],
            "labelExpr": "'10⁻' + ['0','¹','²','³','⁴','⁵','⁶','⁷','⁸','⁹'][round(-log(datum.value)/LN10)]",
            "grid": true, "gridColor": "#b0b0b0", "gridWidth": 1,
            "tickSize": -11, "labelPadding": 16,
            "title": "Flux (Watts · m⁻²)", "titlePadding": 16
          }
        },
        "color": {
          "field": "s", "type": "nominal",
          "scale": {"domain": ["r", "b"], "range": ["#ff0000", "#0000ff"]},
          "legend": {
            "orient": "none", "legendX": 751, "legendY": 7, "direction": "horizontal",
            "title": null,
            "labelExpr": "datum.value == 'r' ? 'GOES 1.0-8.0 Å' : 'GOES 0.5-4.0 Å'",
            "symbolType": "stroke", "symbolSize": 840, "symbolStrokeWidth": 1.5,
            "labelFont": "DejaVu Sans", "labelFontSize": 13, "labelColor": "black",
            "labelOffset": 11, "columnPadding": 29, "padding": 7,
            "strokeColor": "#cccccc", "fillColor": "rgba(255,255,255,0.8)", "cornerRadius": 3
          }
        }
      }
    },
    {
      "data": {"values": [{"t": "2022-04-01T00:00Z"}, {"t": "2022-04-02T00:00Z"}]},
      "mark": {"type": "rule", "color": "black", "strokeWidth": 1.2},
      "encoding": {}
    },
    {
      "data": {"values": [{"t": "2022-04-02T18:12Z", "v": 1.7e-9, "label": "Generated : 02-Apr-2022 23:30 UTC"}]},
      "mark": {"type": "text", "font": "DejaVu Sans", "fontSize": 11, "color": "black", "align": "center", "baseline": "middle"},
      "encoding": {
        "y": {
          "field": "v", "type": "quantitative",
          "scale": {"type": "log", "nice": false, "domain": [1e-9, 1e-2]},
          "axis": {
            "orient": "right",
            "values": [3e-8, 3e-7, 3e-6, 3e-5, 3e-4],
            "labelExpr": "['A','B','C','M','X'][round(log(datum.value)/LN10 + 8)]",
            "grid": false, "tickSize": -8, "labelPadding": 13,
            "title": "GOES Class", "titleAngle": 270, "titleBaseline": "top", "titlePadding": 3
          }
        },
        "text": {"field": "label"}
      }
    },
    {
      "data": {"values": [{"t": "2022-04-02T18:12Z", "v": 1.7e-9}]},
      "mark": {"type": "point", "opacity": 0},
      "encoding": {
        "y": {
          "field": "v", "type": "quantitative",
          "scale": {"type": "log", "nice": false, "domain": [1e-9, 1e-2]},
          "axis": {
            "orient": "left", "title": null, "labels": false, "grid": false, "tickSize": -7,
            "values": [2e-9,3e-9,4e-9,5e-9,6e-9,7e-9,8e-9,9e-9,2e-8,3e-8,4e-8,5e-8,6e-8,7e-8,8e-8,9e-8,2e-7,3e-7,4e-7,5e-7,6e-7,7e-7,8e-7,9e-7,2e-6,3e-6,4e-6,5e-6,6e-6,7e-6,8e-6,9e-6,2e-5,3e-5,4e-5,5e-5,6e-5,7e-5,8e-5,9e-5,2e-4,3e-4,4e-4,5e-4,6e-4,7e-4,8e-4,9e-4,2e-3,3e-3,4e-3,5e-3,6e-3,7e-3,8e-3,9e-3]
          }
        }
      }
    },
    {
      "data": {"values": [{"t": "2022-04-02T18:12Z", "v": 1.7e-9}]},
      "mark": {"type": "point", "opacity": 0},
      "encoding": {
        "y": {
          "field": "v", "type": "quantitative",
          "scale": {"type": "log", "nice": false, "domain": [1e-9, 1e-2]},
          "axis": {
            "orient": "right", "title": null, "labels": false, "grid": false, "tickSize": -7,
            "values": [2e-9,3e-9,4e-9,5e-9,6e-9,7e-9,8e-9,9e-9,1e-8,2e-8,4e-8,5e-8,6e-8,7e-8,8e-8,9e-8,1e-7,2e-7,4e-7,5e-7,6e-7,7e-7,8e-7,9e-7,1e-6,2e-6,4e-6,5e-6,6e-6,7e-6,8e-6,9e-6,1e-5,2e-5,4e-5,5e-5,6e-5,7e-5,8e-5,9e-5,1e-4,2e-4,4e-4,5e-4,6e-4,7e-4,8e-4,9e-4,1e-3,2e-3,3e-3,4e-3,5e-3,6e-3,7e-3,8e-3,9e-3]
          }
        }
      }
    }
  ],
  "resolve": {"axis": {"y": "independent"}}
}
